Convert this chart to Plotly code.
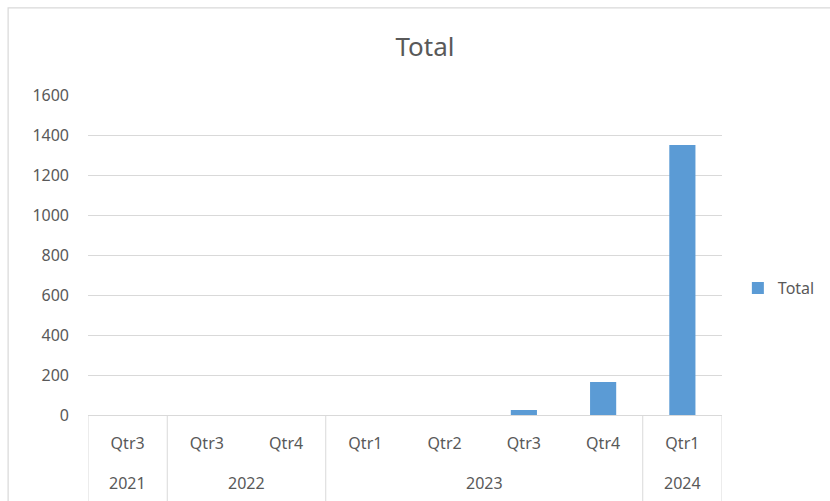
import plotly.graph_objects as go

years = ["2021", "2022", "2022", "2023", "2023", "2023", "2023", "2024"]
quarters = ["Qtr3", "Qtr3", "Qtr4", "Qtr1", "Qtr2", "Qtr3", "Qtr4", "Qtr1"]
totals = [0, 0, 0, 0, 0, 25, 165, 1350]
y_ticks = [0, 200, 400, 600, 800, 1000, 1200, 1400, 1600]

FONT = "Noto Sans, sans-serif"
GRAY = "#595959"
LINE = "#d9d9d9"

cats = [f"{y} {q}" for y, q in zip(years, quarters)]

# group spans (year -> first/last index)
groups = []
for i, y in enumerate(years):
    if groups and groups[-1][0] == y:
        groups[-1][2] = i
    else:
        groups.append([y, i, i])

fig = go.Figure()
fig.add_trace(go.Bar(
    x=cats, y=totals, name="Total",
    marker=dict(color="#5b9bd5", line=dict(width=0)),
))

shapes = [dict(type="rect", xref="paper", yref="paper",
               x0=-0.126, x1=1.2, y0=-0.3, y1=1.272,
               line=dict(color=LINE, width=1.2), fillcolor="rgba(0,0,0,0)", layer="below")]
bounds = [g[1] - 0.5 for g in groups] + [groups[-1][2] + 0.5]
for b in bounds:
    shapes.append(dict(type="line", xref="x", yref="paper", x0=b, x1=b, y0=0, y1=-0.3,
                       line=dict(color=LINE, width=1)))

annotations = []
for y, i0, i1 in groups:
    annotations.append(dict(x=(i0 + i1) / 2, y=-0.2125, xref="x", yref="paper",
                            text=y, showarrow=False, yanchor="middle",
                            font=dict(family=FONT, size=16, color=GRAY)))

fig.update_layout(
    width=830, height=501, autosize=False,
    margin=dict(l=88, r=108, t=95, b=86),
    paper_bgcolor="white", plot_bgcolor="white",
    bargap=0.67,
    showlegend=True,
    font=dict(family=FONT, color=GRAY, size=16),
    title=dict(text="Total", x=0.512, xanchor="center", y=0.906, yanchor="middle",
               font=dict(family=FONT, size=26, color=GRAY)),
    legend=dict(xref="container", yref="container", x=0.889, y=1 - 288 / 501,
                xanchor="left", yanchor="middle",
                font=dict(family=FONT, size=16, color=GRAY), itemwidth=30),
    xaxis=dict(
        type="category", showline=True, linecolor=LINE, linewidth=1,
        tickvals=cats, ticktext=quarters, range=[-0.5, len(cats) - 0.5],
        tickfont=dict(family=FONT, size=16, color=GRAY),
        showgrid=False, ticks="", ticklabelstandoff=14,
    ),
    yaxis=dict(
        range=[0, 1600], tickvals=y_ticks, showgrid=True, gridcolor=LINE,
        gridwidth=1, zeroline=False, showline=False, ticks="",
        tickfont=dict(family=FONT, size=16, color=GRAY), ticklabelstandoff=18,
    ),
    shapes=shapes,
    annotations=annotations,
)

fig.write_html(
    "out.html",
    config={"responsive": False, "displayModeBar": False},
    post_script="document.body.style.margin='0';document.body.style.overflow='hidden';",
)
